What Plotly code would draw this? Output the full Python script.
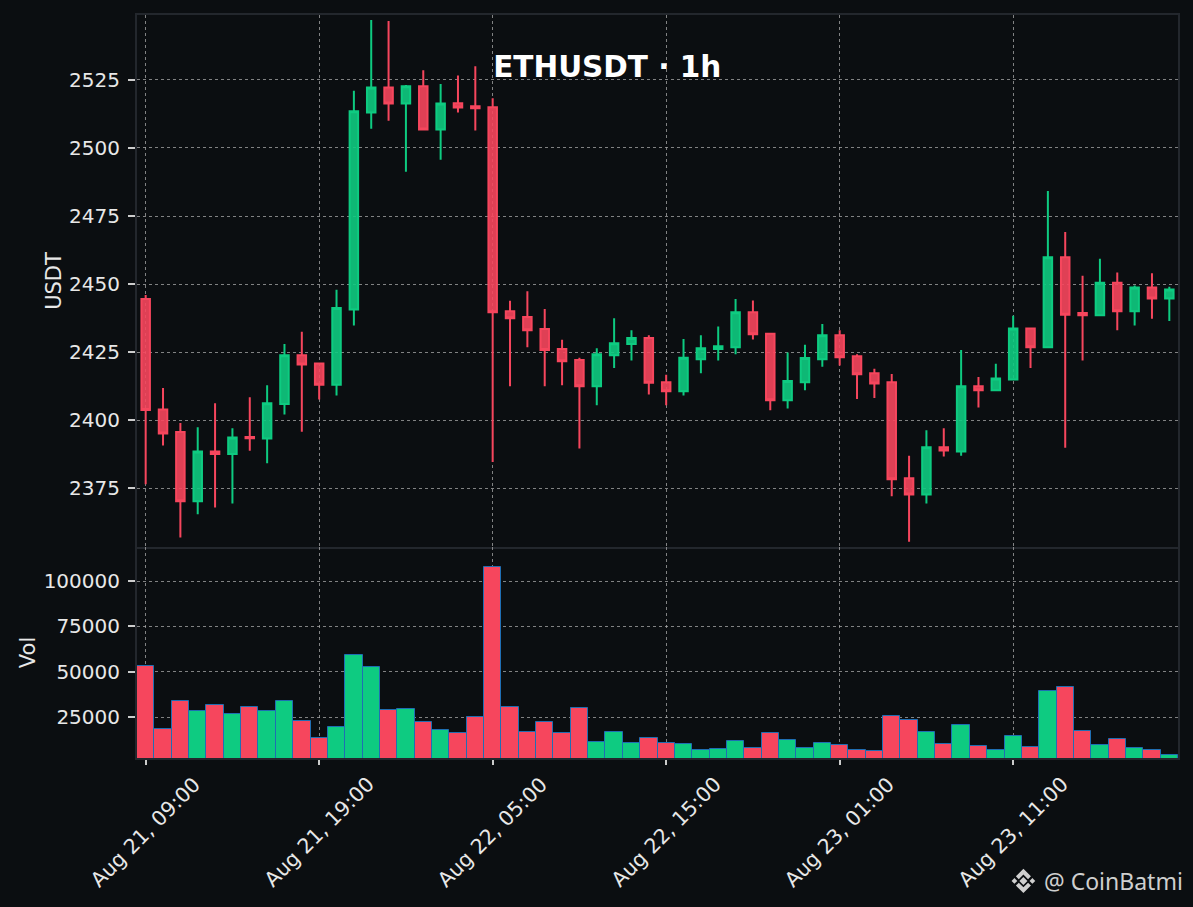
import base64
import pandas as pd
import plotly.graph_objects as go
from plotly.subplots import make_subplots

# hourly ETHUSDT candles, Aug 21 09:00 -> Aug 23 20:00
times = pd.date_range('2024-08-21 09:00', periods=60, freq='h')
tick_times = pd.date_range('2024-08-21 09:00', periods=6, freq='10h')
tick_labels = [t.strftime('%b %d, %H:%M') for t in tick_times]

opens = [2444.5, 2404.0, 2395.7, 2370.3, 2388.6, 2387.6, 2393.9, 2393.3, 2406.0, 2423.9,
         2420.9, 2413.1, 2440.7, 2513.0, 2522.2, 2516.3, 2522.6, 2506.8, 2516.4, 2515.3,
         2514.9, 2440.0, 2437.9, 2433.5, 2426.2, 2422.1, 2412.5, 2423.9, 2428.0, 2430.2,
         2414.0, 2410.7, 2422.4, 2426.2, 2426.8, 2439.7, 2431.8, 2407.4, 2414.0, 2422.4,
         2431.2, 2423.5, 2417.3, 2414.0, 2378.7, 2372.8, 2390.1, 2388.6, 2412.5, 2411.0,
         2415.0, 2433.7, 2426.8, 2459.9, 2439.4, 2438.6, 2450.5, 2440.0, 2448.8, 2444.7]
highs = [2446.0, 2411.9, 2399.0, 2397.5, 2406.3, 2397.1, 2408.5, 2412.9, 2428.0, 2432.5,
         2421.0, 2447.9, 2521.0, 2547.0, 2546.6, 2523.1, 2528.5, 2523.5, 2526.6, 2530.0,
         2518.2, 2443.9, 2447.4, 2440.9, 2429.6, 2423.0, 2426.5, 2437.5, 2433.1, 2431.2,
         2416.7, 2429.9, 2431.2, 2434.4, 2444.5, 2444.0, 2431.8, 2424.9, 2427.7, 2435.4,
         2433.1, 2424.3, 2418.9, 2417.0, 2387.0, 2396.4, 2397.1, 2425.8, 2415.9, 2420.8,
         2438.4, 2433.7, 2484.2, 2469.1, 2453.1, 2459.3, 2454.3, 2449.5, 2454.0, 2449.0]
lows = [2376.5, 2390.8, 2357.0, 2365.5, 2368.0, 2369.5, 2388.8, 2384.2, 2402.1, 2395.8,
        2407.6, 2409.1, 2434.8, 2507.0, 2510.0, 2491.3, 2506.8, 2495.7, 2513.0, 2506.4,
        2384.7, 2412.5, 2426.8, 2412.5, 2412.9, 2389.7, 2405.5, 2419.2, 2422.0, 2409.5,
        2405.5, 2409.1, 2417.3, 2422.0, 2424.3, 2429.7, 2403.7, 2404.3, 2411.0, 2419.7,
        2420.1, 2407.8, 2408.2, 2372.1, 2355.4, 2369.5, 2386.7, 2387.0, 2404.7, 2411.0,
        2415.0, 2419.2, 2426.5, 2389.9, 2422.0, 2438.6, 2433.1, 2434.8, 2437.3, 2436.5]
closes = [2403.8, 2395.2, 2370.3, 2388.6, 2387.6, 2393.7, 2393.4, 2406.3, 2423.9, 2420.5,
          2413.1, 2441.2, 2513.5, 2522.2, 2516.3, 2522.6, 2506.8, 2516.3, 2514.8, 2514.6,
          2439.7, 2437.5, 2433.1, 2425.8, 2421.7, 2412.5, 2424.3, 2428.3, 2430.2, 2413.8,
          2410.7, 2423.0, 2426.5, 2427.2, 2439.7, 2431.6, 2407.4, 2414.4, 2422.9, 2431.2,
          2423.2, 2416.9, 2413.5, 2378.4, 2372.8, 2390.1, 2388.9, 2412.5, 2411.0, 2415.4,
          2433.7, 2426.8, 2459.9, 2438.8, 2438.6, 2450.5, 2440.0, 2448.8, 2444.7, 2448.0]
volumes = [53120, 18570, 34000, 28490, 31620, 26840, 30510, 28490, 34000, 22980,
           13600, 19670, 59370, 52750, 29040, 29600, 22430, 18020, 16360, 25180,
           107890, 30700, 16910, 22430, 16360, 30150, 11400, 16910, 10660, 13600,
           10850, 10110, 6990, 7540, 11950, 7910, 16360, 12500, 8090, 10850,
           9740, 6990, 6440, 25740, 23530, 16910, 10300, 20770, 9190, 6990,
           14710, 8640, 39520, 41730, 17460, 9740, 13050, 8090, 6990, 4230]

UP = '#0ecb81'
DOWN = '#f6465d'
BG = '#0b0e11'
FONT = 'DejaVu Sans'
TXT = '#e8e8e8'

vol_colors = [UP if c >= o else DOWN for o, c in zip(opens, closes)]

fig = make_subplots(rows=2, cols=1, shared_xaxes=True, vertical_spacing=0,
                    row_heights=[0.716, 0.284])

fig.add_trace(go.Candlestick(
    x=times, open=opens, high=highs, low=lows, close=closes,
    increasing=dict(line=dict(color=UP, width=2), fillcolor='rgba(14,203,129,0.9)'),
    decreasing=dict(line=dict(color=DOWN, width=2), fillcolor='rgba(246,70,93,0.9)'),
    showlegend=False), row=1, col=1)

fig.add_trace(go.Bar(
    x=times, y=volumes, marker_color=vol_colors,
    marker_line=dict(color='#1f6fb4', width=1), showlegend=False), row=2, col=1)

# binance-style logo for the watermark
logo_svg = ('<svg xmlns="http://www.w3.org/2000/svg" viewBox="0 0 100 100" fill="#cfcfcf">'
            '<polygon points="50,36 64,50 50,64 36,50"/>'
            '<polygon points="19,40 29,50 19,60 9,50"/>'
            '<polygon points="81,40 91,50 81,60 71,50"/>'
            '<polygon points="50,8 76,34 66,44 50,28 34,44 24,34"/>'
            '<polygon points="50,92 76,66 66,56 50,72 34,56 24,66"/></svg>')
logo_src = 'data:image/svg+xml;base64,' + base64.b64encode(logo_svg.encode()).decode()

axis_common = dict(showline=True, linecolor='#23272d', linewidth=2, mirror=True,
                   showgrid=True, gridcolor='rgba(170,170,170,0.75)', griddash='dot', gridwidth=1,
                   zeroline=False, tickfont=dict(size=20, color=TXT, family=FONT),
                   ticks='outside', tickcolor='#cccccc', tickwidth=2, ticklen=7)

fig.update_xaxes(**axis_common)
fig.update_xaxes(rangeslider_visible=False, tickvals=tick_times, showticklabels=False,
                 range=['2024-08-21 08:30', '2024-08-23 20:30'])
fig.update_xaxes(ticks='', row=1, col=1)
fig.update_xaxes(ticklen=5, mirror=False, row=2, col=1)

fig.update_yaxes(**axis_common)
fig.update_yaxes(title=dict(text='USDT', standoff=2, font=dict(size=21, color=TXT, family=FONT)),
                 range=[2353.5, 2548.8], dtick=25, ticklabelstandoff=4, row=1, col=1)
fig.update_yaxes(title=dict(text='Vol', standoff=2, font=dict(size=21, color=TXT, family=FONT)),
                 range=[2400, 118800], tickvals=[25000, 50000, 75000, 100000],
                 tickformat='d', ticklabelstandoff=4, row=2, col=1)

# rotated date labels centred under each tick
annotations = [dict(text=lab, x=t, xref='x2', yref='paper', y=-0.0996,
                    xanchor='center', yanchor='middle', textangle=-45, showarrow=False,
                    font=dict(size=20.5, color=TXT, family=FONT))
               for t, lab in zip(tick_times, tick_labels)]
annotations.append(dict(text='@ CoinBatmi', xref='paper', yref='paper', x=1.0067, y=-0.1655,
                        xanchor='right', yanchor='middle', showarrow=False,
                        font=dict(size=23, color='#cfcfcf', family='Noto Sans')))

fig.update_layout(
    width=1193, height=907,
    paper_bgcolor=BG, plot_bgcolor=BG,
    margin=dict(l=137, r=15, t=15, b=149),
    bargap=0,
    font=dict(family=FONT, color=TXT),
    title=dict(text='<b>ETHUSDT · 1h</b>', x=0.509, y=0.927, xref='container', yref='container',
               xanchor='center', yanchor='middle',
               font=dict(size=29.5, color='white', family=FONT)),
    annotations=annotations,
    images=[dict(source=logo_src, xref='paper', yref='paper', x=0.8376, y=-0.1460,
                 sizex=0.0278, sizey=0.0390, xanchor='left', yanchor='top',
                 sizing='contain', layer='above')],
)

fig.write_html("out.html", config={'displayModeBar': False},
               post_script="document.body.style.margin='0';document.body.style.overflow='hidden';"
                           "document.body.style.background='#0b0e11';")
